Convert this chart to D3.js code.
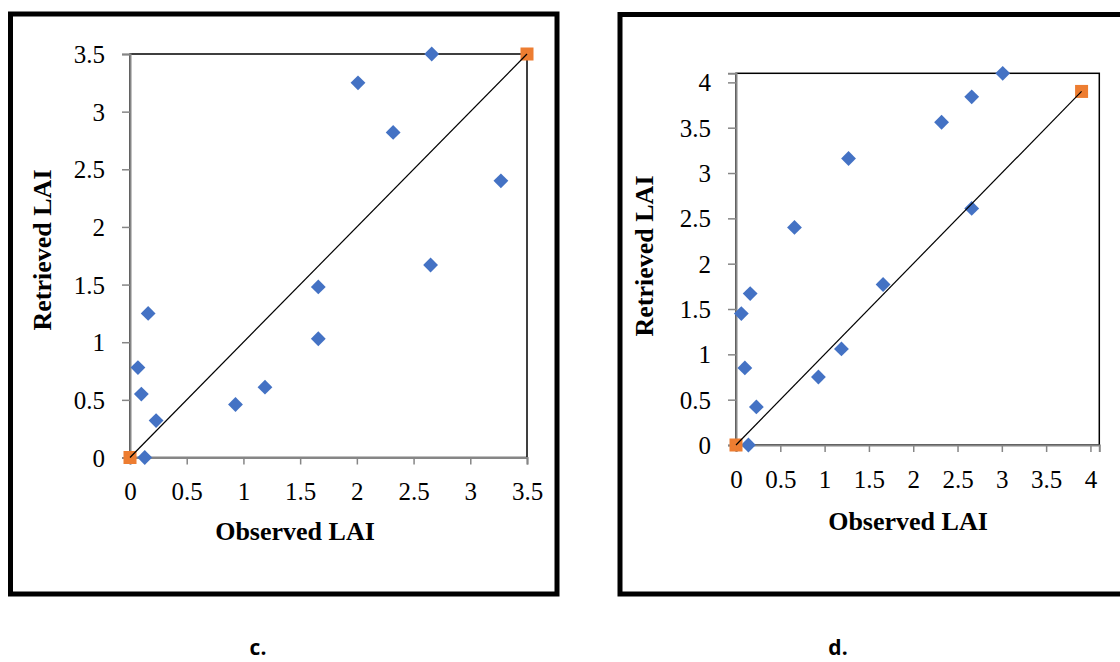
<!DOCTYPE html>
<html>
<head>
<meta charset="utf-8">
<script src="https://cdn.jsdelivr.net/npm/d3@7"></script>
<style>
  html, body { margin: 0; padding: 0; background: #fff; }
  svg { display: block; }
</style>
</head>
<body>
<svg id="chart" width="1120" height="662"></svg>
<script>
// ---- Data ----
// Panel c
const cObserved  = [2.66, 2.01, 2.32, 3.27, 2.65, 1.66, 1.66, 0.16, 0.07, 0.10, 0.23, 0.13, 0.93, 1.19];
const cRetrieved = [3.50, 3.25, 2.82, 2.40, 1.67, 1.48, 1.03, 1.25, 0.78, 0.55, 0.32, 0.00, 0.46, 0.61];
const cRefX = [0, 3.5];
const cRefY = [0, 3.5];
const cTicks = [0, 0.5, 1, 1.5, 2, 2.5, 3, 3.5];
// Panel d
const dObserved  = [3.01, 2.66, 2.32, 1.27, 0.66, 2.66, 1.66, 0.16, 0.06, 0.10, 0.23, 0.14, 0.93, 1.19];
const dRetrieved = [4.10, 3.84, 3.56, 3.16, 2.40, 2.61, 1.77, 1.67, 1.45, 0.85, 0.42, 0.00, 0.75, 1.06];
const dRefX = [0, 3.9];
const dRefY = [0, 3.9];
const dTicks = [0, 0.5, 1, 1.5, 2, 2.5, 3, 3.5, 4];
const panelLabels = ["c.", "d."];
const xTitle = "Observed LAI";
const yTitle = "Retrieved LAI";

const svg = d3.select("#chart");
const BLUE = "#4472C4", ORANGE = "#ED7D31", AXIS = "#868686";

function panel(cfg) {
  const g = svg.append("g");
  // outer frame
  g.append("rect")
    .attr("x", cfg.frame[0]).attr("y", cfg.frame[1])
    .attr("width", cfg.frame[2] - cfg.frame[0]).attr("height", cfg.frame[3] - cfg.frame[1])
    .attr("fill", "none").attr("stroke", "#000").attr("stroke-width", 5);

  const x = d3.scaleLinear().domain([0, cfg.max]).range([cfg.left, cfg.right]);
  const y = d3.scaleLinear().domain([0, cfg.max]).range([cfg.bottom, cfg.top]);

  // plot-area border
  g.append("rect")
    .attr("x", cfg.left).attr("y", cfg.top)
    .attr("width", cfg.right - cfg.left).attr("height", cfg.bottom - cfg.top)
    .attr("fill", "none").attr("stroke", "#000").attr("stroke-width", 1.5);

  const fmt = d => d3.format("")(d);
  const xAxis = g.append("g").attr("transform", `translate(0,${cfg.bottom})`)
    .call(d3.axisBottom(x).tickValues(cfg.ticks).tickFormat(fmt).tickSize(7).tickPadding(18));
  const yAxis = g.append("g").attr("transform", `translate(${cfg.left},0)`)
    .call(d3.axisLeft(y).tickValues(cfg.ticks).tickFormat(fmt).tickSize(8).tickPadding(17));
  [xAxis, yAxis].forEach(a => {
    a.select(".domain").attr("stroke", AXIS).attr("stroke-width", 2);
    a.selectAll(".tick line").attr("stroke", AXIS).attr("stroke-width", 1.5);
    a.selectAll(".tick text")
      .attr("font-family", "'Liberation Serif', 'Times New Roman', serif")
      .attr("font-size", 25).attr("fill", "#000");
  });
  xAxis.selectAll(".tick text").attr("dy", "0.71em");
  yAxis.selectAll(".tick text").attr("dy", "0.34em");

  // points
  const pts = cfg.xs.map((v, i) => [v, cfg.ys[i]]);
  const diamond = d3.symbol().type(d3.symbolSquare).size(110);
  g.append("g").selectAll("path").data(pts).join("path")
    .attr("d", diamond)
    .attr("transform", d => `translate(${x(d[0])},${y(d[1])}) rotate(45)`)
    .attr("fill", BLUE);

  // reference squares
  const refs = cfg.refX.map((v, i) => [v, cfg.refY[i]]);
  g.append("g").selectAll("rect").data(refs).join("rect")
    .attr("x", d => x(d[0]) - 6.5).attr("y", d => y(d[1]) - 6.5)
    .attr("width", 13).attr("height", 13).attr("fill", ORANGE);

  // 1:1 line
  g.append("path")
    .datum(refs)
    .attr("d", d3.line().x(d => x(d[0])).y(d => y(d[1])))
    .attr("stroke", "#000").attr("stroke-width", 1.2).attr("fill", "none");

  // titles
  g.append("text")
    .attr("x", cfg.xTitleX).attr("y", cfg.xTitleY)
    .attr("text-anchor", "middle")
    .attr("font-family", "'Liberation Serif', 'Times New Roman', serif")
    .attr("font-weight", "bold").attr("font-size", 26)
    .text(xTitle);
  g.append("text")
    .attr("transform", `translate(${cfg.yTitleX},${cfg.yTitleY}) rotate(-90)`)
    .attr("text-anchor", "middle")
    .attr("font-family", "'Liberation Serif', 'Times New Roman', serif")
    .attr("font-weight", "bold").attr("font-size", 26)
    .text(yTitle);

  // panel label
  svg.append("text")
    .attr("x", cfg.labelX).attr("y", 655)
    .attr("text-anchor", "middle")
    .attr("font-family", "'Open Sans', 'Liberation Sans', sans-serif")
    .attr("font-weight", "bold").attr("font-size", 21)
    .text(cfg.label);
}

panel({
  frame: [10.5, 14, 557, 594],
  left: 130, right: 527, top: 54, bottom: 457.5, max: 3.5,
  ticks: cTicks, xs: cObserved, ys: cRetrieved, refX: cRefX, refY: cRefY,
  xTitleX: 295, xTitleY: 540, yTitleX: 51, yTitleY: 250,
  labelX: 258, label: panelLabels[0]
});
panel({
  frame: [620, 14.5, 1130, 594],
  left: 736, right: 1099.3, top: 73.3, bottom: 445, max: 4.1,
  ticks: dTicks, xs: dObserved, ys: dRetrieved, refX: dRefX, refY: dRefY,
  xTitleX: 908, xTitleY: 530, yTitleX: 653, yTitleY: 256,
  labelX: 838, label: panelLabels[1]
});
</script>
</body>
</html>
